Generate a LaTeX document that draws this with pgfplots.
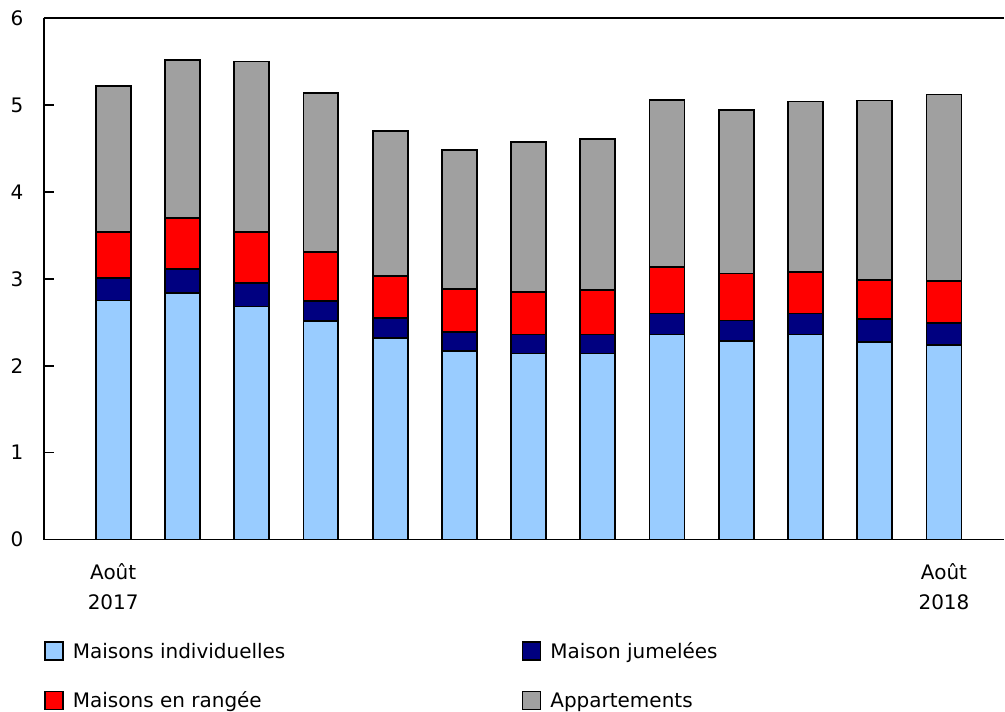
\documentclass[border=0pt]{standalone}
\usepackage{pgfplots}
\pgfplotsset{compat=1.18}
\usepackage{fontspec}
\setmainfont{DejaVu Sans}

\definecolor{indiv}{HTML}{99CCFF}
\definecolor{jumel}{HTML}{000080}
\definecolor{range}{HTML}{FF0000}
\definecolor{appart}{HTML}{A0A0A0}

\begin{document}
\begin{tikzpicture}[font=\fontsize{20}{24}\selectfont]
\begin{axis}[
  scale only axis,
  width=961pt, height=522pt,
  xmin=0, xmax=13.87,
  ymin=0, ymax=6,
  ybar stacked,
  bar width=35pt,
  axis x line*=bottom,
  axis y line*=left,
  axis line style={line width=1.6pt},
  xtick={1,13},
  xticklabels={Août\\[6pt]2017, Août\\[6pt]2018},
  xticklabel style={align=center, yshift=-20pt},
  xtick style={draw=none},
  ytick={0,1,...,6},
  ytick style={draw=black, line width=1.6pt},
  tick align=inside,
  major tick length=10pt,
  yticklabel style={anchor=east, xshift=-17pt},
  /pgf/number format/assume math mode=true,
  legend columns=2,
  legend cell align=left,
  legend style={draw=none, at={(0,-0.193)}, anchor=north west, inner sep=0pt,
    row sep=28pt},
  legend image code/.code={\draw[#1, line width=1.6pt] (0pt,-9pt) rectangle (18pt,9pt);
    \path[draw=none, fill=none] (26pt,0pt);},
  after end axis/.code={
    \draw[line width=1.6pt] (rel axis cs:0,1) -- (rel axis cs:1,1);
    \foreach \t in {1,...,6} {\draw[line width=1.6pt] (axis cs:0,\t) -- ++(10pt,0pt);}
    \path ([xshift=-44pt,yshift=-171pt]rel axis cs:0,0) ([yshift=18pt]rel axis cs:1,1);
  },
]
\addplot[fill=indiv, draw=black, line width=1.8pt] coordinates {
  (1,2.75) (2,2.84) (3,2.68) (4,2.51) (5,2.32) (6,2.17) (7,2.14)
  (8,2.14) (9,2.36) (10,2.28) (11,2.36) (12,2.27) (13,2.24)};
\addplot[fill=jumel, draw=black, line width=1.8pt] coordinates {
  (1,0.26) (2,0.27) (3,0.27) (4,0.23) (5,0.23) (6,0.22) (7,0.22)
  (8,0.22) (9,0.24) (10,0.24) (11,0.24) (12,0.27) (13,0.25)};
\addplot[fill=range, draw=black, line width=1.8pt] coordinates {
  (1,0.53) (2,0.59) (3,0.59) (4,0.57) (5,0.48) (6,0.49) (7,0.49)
  (8,0.51) (9,0.54) (10,0.54) (11,0.48) (12,0.45) (13,0.48)};
\addplot[fill=appart, draw=black, line width=1.8pt] coordinates {
  (1,1.68) (2,1.82) (3,1.96) (4,1.83) (5,1.67) (6,1.60) (7,1.72)
  (8,1.74) (9,1.92) (10,1.88) (11,1.96) (12,2.06) (13,2.15)};
\legend{\makebox[447pt][l]{Maisons individuelles}, Maison jumelées,
  Maisons en rangée, Appartements}
\end{axis}
\end{tikzpicture}
\end{document}
